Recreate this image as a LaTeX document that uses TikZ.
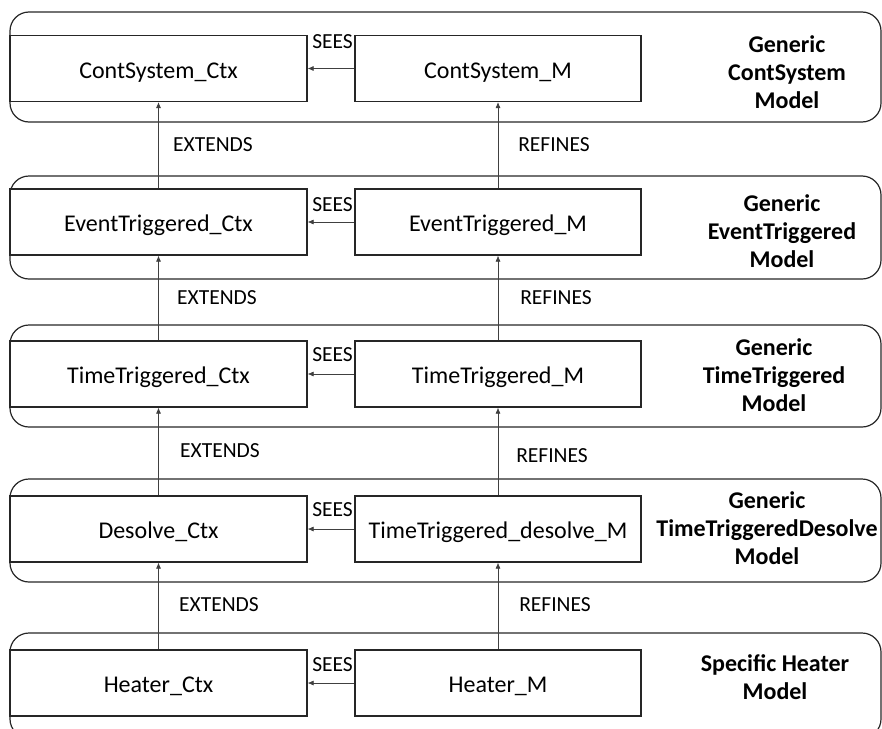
\documentclass[tikz,border=0pt]{standalone}
\usepackage{fontspec}
\setmainfont{Carlito}
\usetikzlibrary{arrows.meta}
\begin{document}
\begin{tikzpicture}[x=1pt,y=-1pt,
  layer/.style={draw=black!85, line width=1.2pt, rounded corners=19pt},
  ctxbox/.style={draw=black!85, line width=1.2pt, fill=white, inner sep=0pt,
    minimum width=297pt, minimum height=66pt, text height=19.5pt, text depth=0pt,
    font=\fontsize{24}{29}\selectfont},
  mbox/.style={draw=black!85, line width=1.2pt, fill=white, inner sep=0pt,
    minimum width=286pt, minimum height=66pt, text height=19.5pt, text depth=0pt,
    font=\fontsize{24}{29}\selectfont},
  title/.style={align=center, inner sep=0pt, font=\bfseries\fontsize{24}{28}\selectfont},
  rel/.style={inner sep=0pt, font=\fontsize{21.5}{24}\selectfont},
  link/.style={draw=black!75, line width=0.7pt, -{Latex[length=6pt,width=5pt]}}
]
\clip (0,0) rectangle (882,728);

% model layers
\draw[layer] (10,12)  rectangle (881,122);
\draw[layer] (10,176) rectangle (881,279);
\draw[layer] (10,325) rectangle (881,427);
\draw[layer] (10,479) rectangle (881,582);
\draw[layer] (10,633) rectangle (881,738);

% contexts and machines
\node[ctxbox] (c1) at (158.5,68.5) {ContSystem\_Ctx};
\node[mbox]   (m1) at (498,68.5)   {ContSystem\_M};
\node[ctxbox] (c2) at (158.5,222)  {EventTriggered\_Ctx};
\node[mbox]   (m2) at (498,222)    {EventTriggered\_M};
\node[ctxbox] (c3) at (158.5,374)  {TimeTriggered\_Ctx};
\node[mbox]   (m3) at (498,374)    {TimeTriggered\_M};
\node[ctxbox] (c4) at (158.5,529)  {Desolve\_Ctx};
\node[mbox]   (m4) at (498,529)    {TimeTriggered\_desolve\_M};
\node[ctxbox] (c5) at (158.5,683)  {Heater\_Ctx};
\node[mbox]   (m5) at (498,683)    {Heater\_M};

% layer titles
\node[title] (t1) at (787,72)    {Generic\\ContSystem\\Model};
\node[title] (t2) at (782,231)   {Generic\\EventTriggered\\Model};
\node[title] (t3) at (774,375)   {Generic\\TimeTriggered\\Model};
\node[title] (t4) at (767,528)   {Generic\\TimeTriggeredDesolve\\Model};
\node[title] (t5) at (775,677.5) {Specific Heater\\Model};

% sees relations
\foreach \i/\y in {1/41.5,2/204.5,3/355,4/510,5/665}{
  \node[rel, anchor=east] (s\i) at (353,\y) {SEES};
  \draw[link] (m\i) -- (c\i);
}

% extends and refines relations
\draw[link] (c2) -- (c1);
\draw[link] (m2) -- (m1);
\draw[link] (c3) -- (c2);
\draw[link] (m3) -- (m2);
\draw[link] (c4) -- (c3);
\draw[link] (m4) -- (m3);
\draw[link] (c5) -- (c4);
\draw[link] (m5) -- (m4);

\node[rel] (e1) at (213,145) {EXTENDS};
\node[rel] (e2) at (217,298) {EXTENDS};
\node[rel] (e3) at (220,451) {EXTENDS};
\node[rel] (e4) at (219,605) {EXTENDS};
\node[rel] (r1) at (554,145) {REFINES};
\node[rel] (r2) at (556,298) {REFINES};
\node[rel] (r3) at (552,456) {REFINES};
\node[rel] (r4) at (555,605) {REFINES};
\end{tikzpicture}
\end{document}
